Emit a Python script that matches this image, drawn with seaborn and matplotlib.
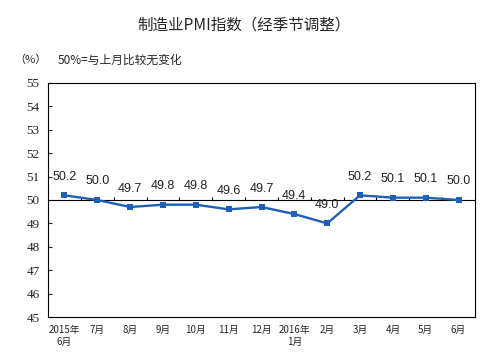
import matplotlib
matplotlib.use("Agg")
import matplotlib.pyplot as plt
import seaborn as sns
import pandas as pd
import numpy as np

months = ["2015年\n6月", "7月", "8月", "9月", "10月", "11月", "12月", "2016年\n1月",
          "2月", "3月", "4月", "5月", "6月"]
pmi = [50.2, 50.0, 49.7, 49.8, 49.8, 49.6, 49.7, 49.4, 49.0, 50.2, 50.1, 50.1, 50.0]
yticks = [45, 46, 47, 48, 49, 50, 51, 52, 53, 54, 55]

sns.set_style("white")
plt.rcParams['font.family'] = ['Noto Sans CJK SC', 'DejaVu Sans']

df = pd.DataFrame({"idx": np.arange(len(months)), "pmi": pmi})

fig = plt.figure(figsize=(4.87, 3.52), dpi=100)
ax = fig.add_axes([48/487, 1 - 317/352, 427/487, 234/352])

sns.lineplot(data=df, x="idx", y="pmi", ax=ax, color="#1f60b6", linewidth=1.7,
             marker="s", markersize=4, markeredgewidth=0, markeredgecolor="#1f60b6")

ax.set_xlim(-0.5, len(months) - 0.5)
ax.set_ylim(45, 55)
ax.set_yticks(yticks)
ax.set_yticklabels([str(v) for v in yticks], family="Liberation Serif", fontsize=9.5)
ax.tick_params(axis="y", direction="in", length=3, width=0.8, pad=6, left=True)
ax.set_xticks(df["idx"])
ax.set_xticklabels(months, fontsize=7)
ax.tick_params(axis="x", length=0, pad=6)
ax.set_xlabel("")
ax.set_ylabel("")
for s in ax.spines.values():
    s.set_color("black")
    s.set_linewidth(0.8)

ax.axhline(50, color="black", linewidth=0.8, zorder=1)
bounds = np.arange(0.5, len(months) - 0.5, 1.0)
ax.vlines(bounds, 50, 50.13, color="black", linewidth=0.8, zorder=1)

for i, v in enumerate(pmi):
    ax.annotate(f"{v:.1f}", (i, v), xytext=(0, 9), textcoords="offset points",
                ha="center", va="bottom", fontsize=9, family="Liberation Sans", color="#222222")

fig.text(244/487, 1 - 25/352, "制造业PMI指数（经季节调整）", ha="center", va="center", fontsize=11.2)
fig.text(14/487, 1 - 60/352, "（%）", ha="left", va="center", fontsize=8)
fig.text(58/487, 1 - 60/352, "50%=与上月比较无变化", ha="left", va="center", fontsize=8.5)

fig.savefig("out.png", dpi=100)
